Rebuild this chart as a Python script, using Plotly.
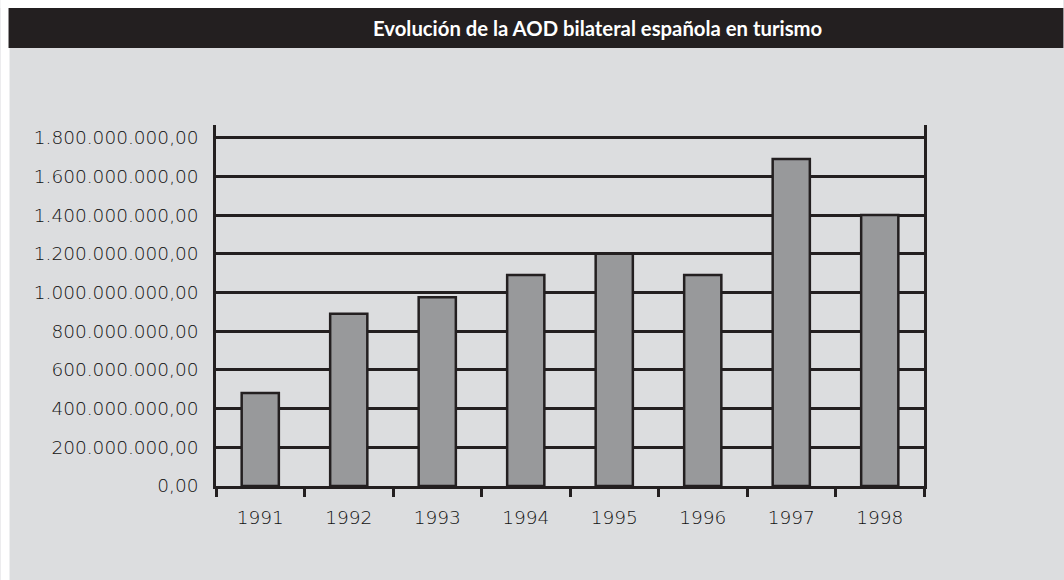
import plotly.graph_objects as go

years = ["1991", "1992", "1993", "1994", "1995", "1996", "1997", "1998"]
aod_values = [480e6, 890e6, 975e6, 1090e6, 1200e6, 1090e6, 1690e6, 1400e6]
y_tickvals = [0, 200e6, 400e6, 600e6, 800e6, 1000e6, 1200e6, 1400e6, 1600e6, 1800e6]
y_ticktext = ["0,00", "200.000.000,00", "400.000.000,00", "600.000.000,00",
              "800.000.000,00", "1.000.000.000,00", "1.200.000.000,00",
              "1.400.000.000,00", "1.600.000.000,00", "1.800.000.000,00"]
title_text = "Evolución de la AOD bilateral española en turismo"

W, H = 1064, 580
L, R, T, B = 215.7, 924.5, 125.0, 485.7
PW, PH = R - L, B - T

def px(x):
    return (x - L) / PW

def py(y):
    return (B - y) / PH

DARK = "#231f20"
BG = "#dcdddf"

fig = go.Figure(go.Bar(
    x=years, y=aod_values,
    marker=dict(color="#98999b", line=dict(color=DARK, width=2.5)),
))

fig.update_layout(
    width=W, height=H,
    margin=dict(l=L, r=W - R, t=T, b=H - B, pad=0),
    paper_bgcolor=BG, plot_bgcolor=BG,
    bargap=0.58,
    showlegend=False,
    font=dict(family="DejaVu Sans", size=18.5, color=DARK),
    shapes=[
        dict(type="rect", xref="paper", yref="paper", x0=px(0), x1=px(W), y0=py(0), y1=py(8),
             fillcolor="white", line=dict(width=0), layer="above"),
        dict(type="rect", xref="paper", yref="paper", x0=px(0), x1=px(9), y0=py(0), y1=py(H),
             fillcolor="white", line=dict(width=0), layer="above"),
        dict(type="rect", xref="paper", yref="paper", x0=px(8), x1=px(W), y0=py(8), y1=py(48),
             fillcolor=DARK, line=dict(width=0), layer="above"),
    ],
    annotations=[
        dict(text=title_text, xref="paper", yref="paper", x=px(597.5), y=py(28),
             xanchor="center", yanchor="middle", showarrow=False,
             font=dict(family="Lato", size=20.3, color="white", weight="bold")),
    ],
)

fig.update_xaxes(
    type="category",
    showline=True, linecolor=DARK, linewidth=2.5,
    ticks="outside", tickson="boundaries", ticklen=8, tickwidth=2.5, tickcolor=DARK,
    showgrid=False, ticklabelstandoff=13,
    tickfont=dict(family="DejaVu Sans", size=18.5, color="#111111", weight=300),
)
fig.update_yaxes(
    range=[0, 1.8e9 + (137.7 - T) * 1.8e9 / (B - 137.7)],
    tickvals=y_tickvals, ticktext=y_ticktext,
    showline=True, mirror=True, linecolor=DARK, linewidth=2.5,
    showgrid=True, gridcolor=DARK, gridwidth=2.5,
    zeroline=False, ticks="", ticklabelstandoff=11,
    tickfont=dict(family="DejaVu Sans", size=18.5, color="#111111", weight=300),
)

fig.write_html(
    "out.html",
    config={"displayModeBar": False},
    post_script="document.body.style.margin='0';document.body.style.overflow='hidden';",
)
